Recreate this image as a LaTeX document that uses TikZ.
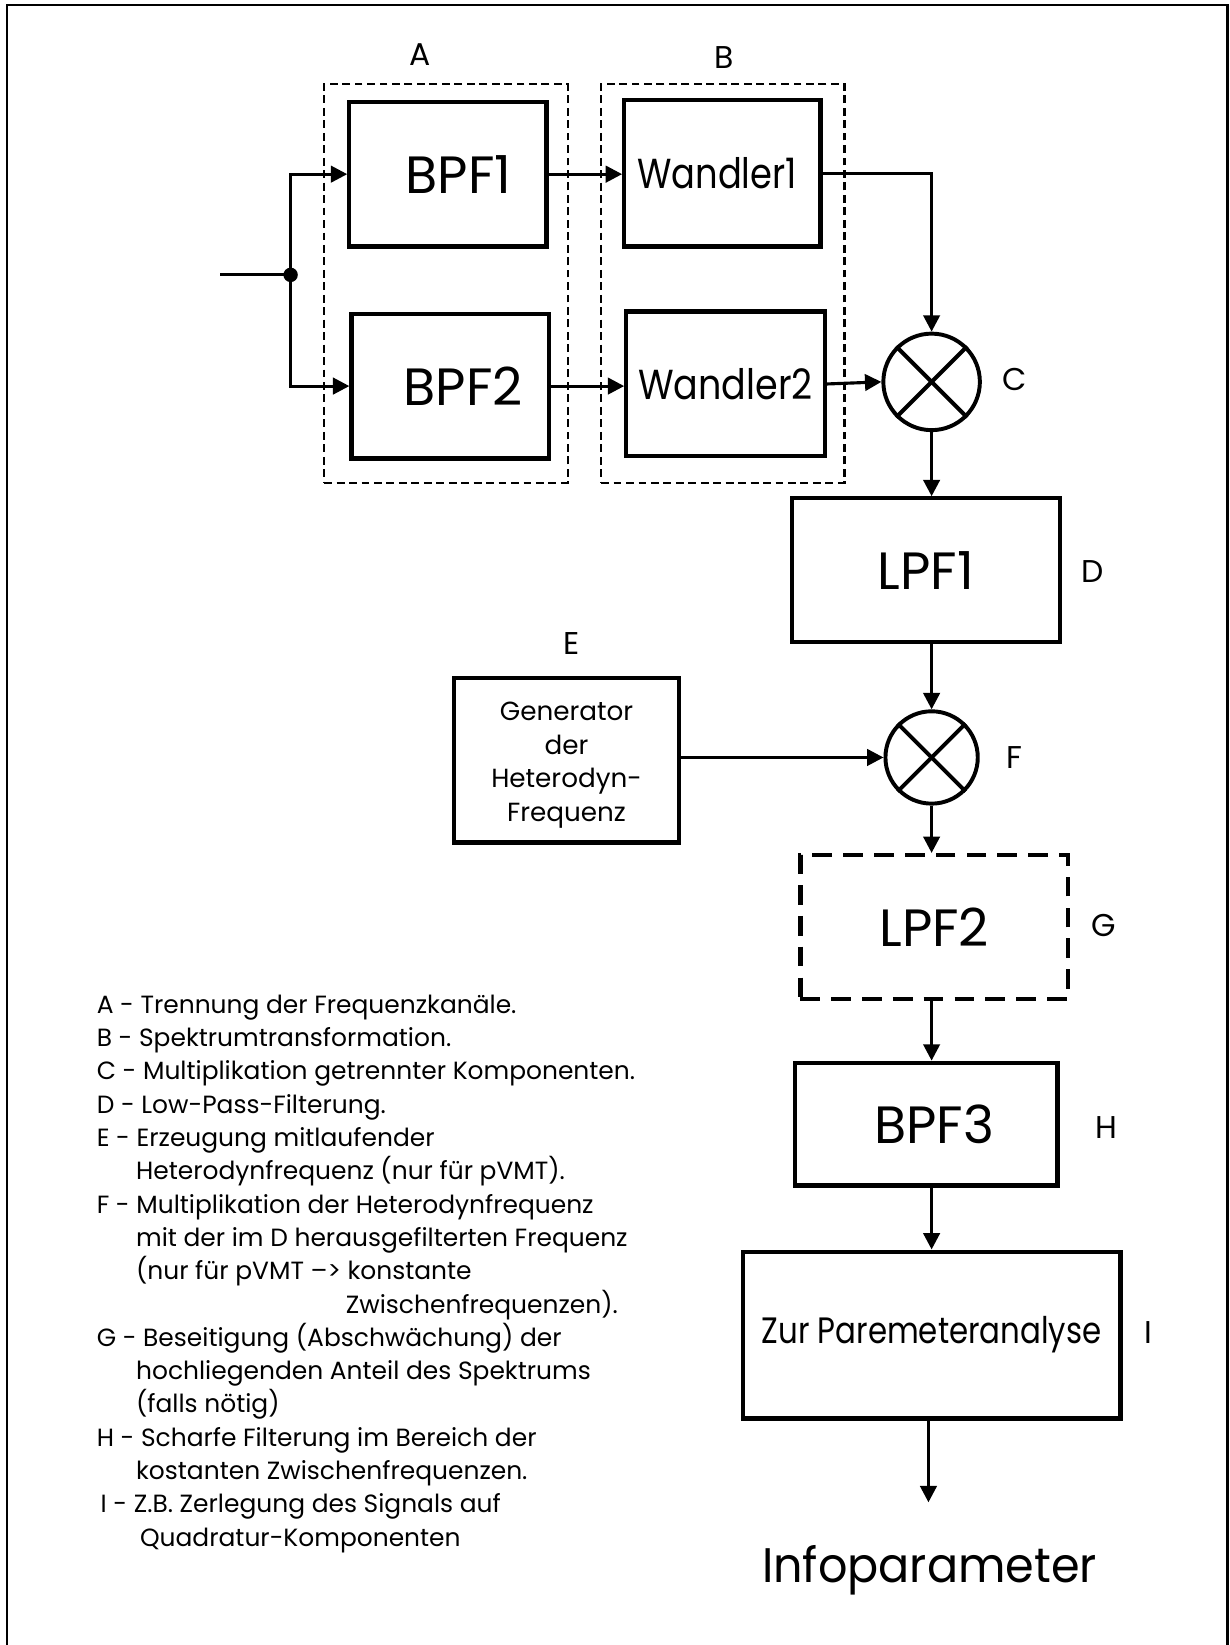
\documentclass[tikz,border=0pt]{standalone}
\usepackage{fontspec}
\usepackage{graphicx}
\setmainfont{Poppins}
\usetikzlibrary{arrows.meta}
\newcommand\fs[2]{\fontsize{#1}{#2}\selectfont}
\newcommand\sx[2]{\scalebox{#1}[1]{#2}}
\begin{document}
\begin{tikzpicture}[x=0.8pt,y=-0.8pt,
  box/.style={draw,line width=3.2pt,inner sep=0pt,align=center},
  con/.style={line width=2.4pt},
  arr/.style={con,-{Triangle[length=12.5pt,width=12.5pt]}},
  mult/.style={draw,circle,line width=3pt,inner sep=0pt},
  grp/.style={draw,line width=1.6pt,dash pattern=on 6pt off 3.5pt,inner sep=0pt},
  lbl/.style={font=\fs{24}{28}},
  big/.style={font=\fs{40}{48}},
  mid/.style={font=\fs{32}{38}},
  small/.style={font=\fs{20}{25.6}},
  legend/.style={font=\fs{19}{25.4}}
]
\useasboundingbox (0,0) rectangle (1172,1568);
\draw[line width=1.6pt] (6.5,1575) -- (6.5,5) -- (1170,5) -- (1170,1575);

% group frames
\node[grp,minimum width=185.6pt,minimum height=304pt] (gA) at (425,270) {};
\node[grp,minimum width=185.6pt,minimum height=304pt] (gB) at (689,270) {};
\node[lbl] (lA) at (400,52) {A};
\node[lbl] (lB) at (690,55) {B};

% blocks
\node[box,big,minimum width=150.4pt,minimum height=110.4pt] (bpf1) at (427,166) {\hspace*{16pt}BPF1};
\node[box,big,minimum width=150.4pt,minimum height=110.4pt] (bpf2) at (429,368) {\hspace*{20pt}BPF2};
\node[box,mid,minimum width=149.6pt,minimum height=112pt] (w1) at (688.5,165) {\sx{0.84}{Wandler1}\hspace*{8pt}};
\node[box,mid,minimum width=151.2pt,minimum height=110.4pt] (w2) at (691.5,366) {\sx{0.87}{Wandler2}};
\node[mult,minimum size=73.6pt] (C) at (888,364) {};
\node[lbl] (lC) at (967,362) {C};
\node[box,big,minimum width=204pt,minimum height=109.6pt] (lpf1) at (882.5,543.5) {LPF1};
\node[lbl] (lD) at (1041,545) {D};
\node[mult,minimum size=70.4pt] (F) at (888,722) {};
\node[lbl] (lF) at (967,722) {F};
\node[box,minimum width=171.2pt,minimum height=125.6pt,
  label={[small,align=center,yshift=-4pt]center:Generator\\der\\Heterodyn-\\Frequenz}] (gen) at (540,724.5) {};
\node[lbl] (lE) at (545,613) {E};
\node[box,big,dash pattern=on 15pt off 8.5pt,minimum width=204pt,minimum height=109.6pt] (lpf2) at (890.5,883.5) {LPF2};
\node[lbl] (lG) at (1052,882) {G};
\node[box,big,minimum width=200pt,minimum height=93.6pt] (bpf3) at (883,1071.5) {\hspace*{12pt}BPF3};
\node[lbl] (lH) at (1055,1075) {H};
\node[box,font=\fs{28}{34},minimum width=288pt,minimum height=127.2pt] (zur) at (888,1272.5) {\sx{0.84}{Zur Paremeteranalyse}};
\node[lbl] (lI) at (1095,1270) {I};
\node[font=\fs{37}{44}] (info) at (886,1497) {\sx{0.95}{Infoparameter}};

% multiplier crosses
\foreach \m in {C,F}{
  \draw[line width=3pt] (\m.north west) -- (\m.south east);
  \draw[line width=3pt] (\m.north east) -- (\m.south west);
}

% connectors
\coordinate (in) at (210,262);
\node[circle,fill,inner sep=0pt,minimum size=11pt] (j) at (277,262) {};
\coordinate (out) at (885,1432);
\draw[con] (in) -- (j.center);
\draw[arr] (j.center) |- (bpf1.west);
\draw[arr] (j.center) |- (bpf2.west);
\draw[arr] (bpf1.east) -- (bpf1.east -| w1.west);
\draw[arr] (bpf2.east) -- (bpf2.east -| w2.west);
\draw[arr] (w1.east) -| (C.north);
\draw[arr] (w2.east) -- (C.west);
\draw[arr] (C.south) -- (C.south |- lpf1.north);
\draw[arr] (lpf1.south -| F.north) -- (F.north);
\draw[arr] (F.west -| gen.east) -- (F.west);
\draw[arr] (F.south) -- (F.south |- lpf2.north);
\draw[arr] (lpf2.south -| F.south) -- (F.south |- bpf3.north);
\draw[arr] (bpf3.south -| F.south) -- (F.south |- zur.north);
\draw[arr] (zur.south -| out) -- (out);

% legend
\node[legend,anchor=north west,align=left,inner sep=0pt] (leg) at (92,948) {%
A - Trennung der Frequenzkanäle.\\
B - Spektrumtransformation.\\
C - Multiplikation getrennter Komponenten.\\
D - Low-Pass-Filterung.\\
E - Erzeugung mitlaufender\\
\hspace*{30pt}Heterodynfrequenz (nur für pVMT).\\
F - Multiplikation der Heterodynfrequenz\\
\hspace*{30pt}mit der im D herausgefilterten Frequenz\\
\hspace*{30pt}(nur für pVMT --> konstante\\
\hspace*{190pt}Zwischenfrequenzen).\\
G - Beseitigung (Abschwächung) der\\
\hspace*{30pt}hochliegenden Anteil des Spektrums\\
\hspace*{30pt}(falls nötig)\\
H - Scharfe Filterung im Bereich der\\
\hspace*{30pt}kostanten Zwischenfrequenzen.\\
\hspace*{3pt}I - Z.B. Zerlegung des Signals auf\\
\hspace*{33pt}Quadratur-Komponenten};
\end{tikzpicture}
\end{document}
